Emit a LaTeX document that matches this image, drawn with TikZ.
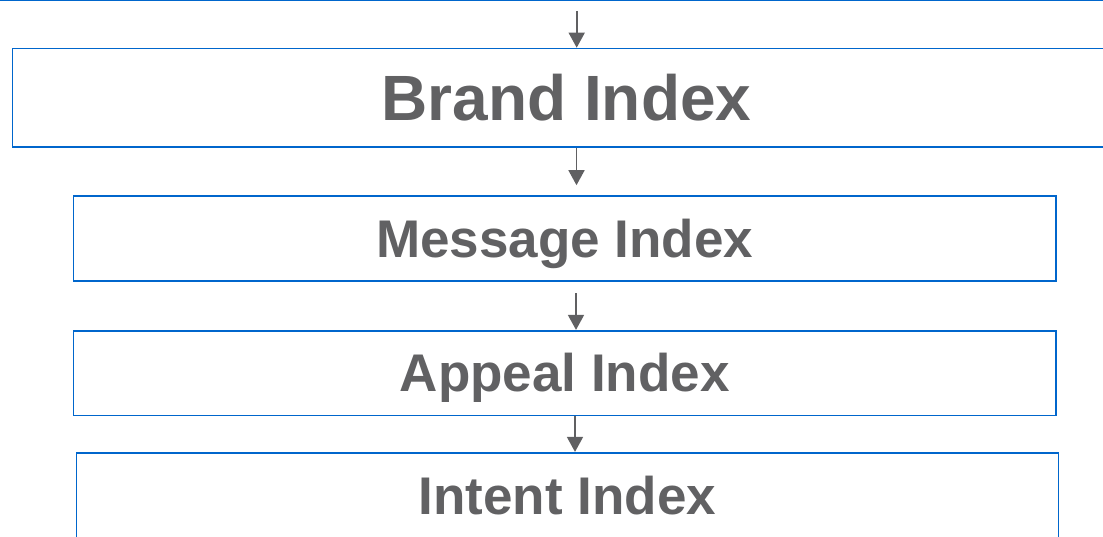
\documentclass[tikz,border=0pt]{standalone}
\usepackage{fontspec}
\setmainfont{Liberation Sans}
\usetikzlibrary{arrows.meta}
\definecolor{boxblue}{RGB}{0,102,204}
\definecolor{txtgray}{RGB}{97,97,99}
\definecolor{arrgray}{RGB}{96,96,98}
\tikzset{
  idxbox/.style={draw=boxblue, line width=1.6pt, fill=white, inner sep=0pt,
    text=txtgray, font=\bfseries\fontsize{#1}{#1}\selectfont,
    text height=0.716*#1 pt, text depth=0pt, anchor=center},
  arr/.style={draw=arrgray, line width=1.6pt, -{Triangle[width=16pt,length=15pt]}}
}
\begin{document}
\begin{tikzpicture}[x=1pt,y=-1pt]
\useasboundingbox (0,0) rectangle (1103,537);
\clip (0,0) rectangle (1103,537);
\node[idxbox=52, minimum width=1200, minimum height=81] (top) at (551.5,-40) {};
\node[idxbox=64, minimum width=1108, minimum height=98.5] (brand) at (566.5,97.75) {Brand Index};
\node[idxbox=53, minimum width=982.5, minimum height=85] (message) at (564.75,238.5) {Message Index};
\node[idxbox=53, minimum width=982.5, minimum height=84.6] (appeal) at (564.75,373) {Appeal Index};
\node[idxbox=53, minimum width=982, minimum height=85] (intent) at (567.3,495.2) {Intent Index};
\coordinate (a1) at (576.7,0);
\coordinate (a2) at (576.5,0);
\coordinate (a3) at (576,0);
\coordinate (a4) at (575,0);
\draw[arr, shorten <=9.5pt] (top.south -| a1) -- (brand.north -| a1);
\draw[arr, shorten >=10pt] (brand.south -| a2) -- (message.north -| a2);
\draw[arr, shorten <=11.7pt] (message.south -| a3) -- (appeal.north -| a3);
\draw[arr] (appeal.south -| a4) -- (intent.north -| a4);
\end{tikzpicture}
\end{document}
